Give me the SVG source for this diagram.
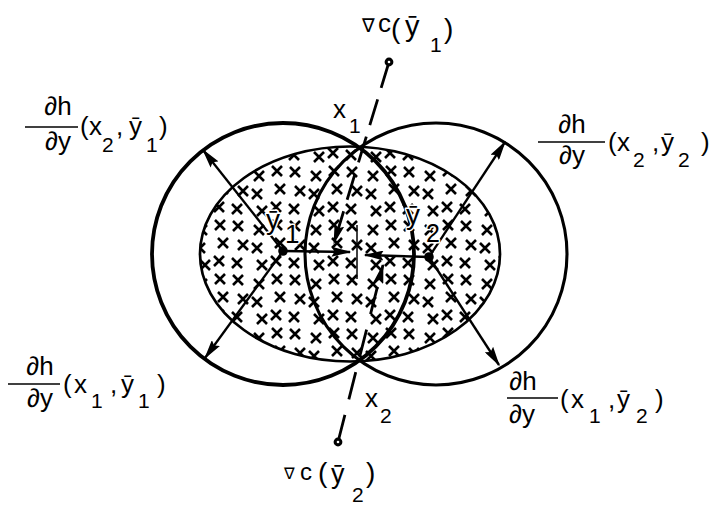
<svg xmlns="http://www.w3.org/2000/svg" width="715" height="506" viewBox="0 0 715 506">
<style>
  text { font-family: "Liberation Sans", "DejaVu Sans", sans-serif; fill: #000; font-size: 26px; }
  .sub { font-size: 21px; }
  .par { font-size: 28px; }
  .nab { font-family: "DejaVu Sans", "Liberation Sans", sans-serif; }
  .halo { paint-order: stroke; stroke: #fff; stroke-width: 3px; stroke-linejoin: round; }
  .bar { stroke: #000; stroke-width: 1.6; }
  .ray { stroke: #000; stroke-width: 2.3; fill: none; marker-end: url(#arrow); }
  .grad { stroke: #000; stroke-width: 2.8; fill: none; marker-end: url(#arrow); }
  .ring { fill: none; stroke: #000; }
</style>
<defs>
  <marker id="arrow" viewBox="0 0 20 10" refX="18.5" refY="5" markerWidth="20" markerHeight="10" markerUnits="userSpaceOnUse" orient="auto">
    <path d="M0,0 L20,5 L0,10 L3,5 z" fill="#000"/>
  </marker>
  <pattern id="xmarks" patternUnits="userSpaceOnUse" x="2" y="3" width="57" height="54">
    <path d="M3,2L13,12M13,2L3,12 M24,6L34,16M34,6L24,16 M42,1L52,11M52,1L42,11 M8,21L18,31M18,21L8,31 M22,24L32,34M32,24L22,34 M45,19L55,29M55,19L45,29 M2,39L12,49M12,39L2,49 M27,41L37,51M37,41L27,51 M41,37L51,47M51,37L41,47" stroke="#000" stroke-width="2.6" stroke-linecap="butt" fill="none"/>
  </pattern>
</defs>
<rect width="715" height="506" fill="#fff"/>

<g id="ellipse-region">
  <ellipse cx="350" cy="254" rx="150" ry="107.5" fill="url(#xmarks)"/>
  <ellipse cx="350" cy="254" rx="150" ry="107.5" class="ring" stroke-width="2.7"/>
</g>
<g id="circle-left">
  <circle cx="283" cy="254" r="131" class="ring" stroke-width="3.8"/>
</g>
<g id="circle-right">
  <circle cx="436" cy="254" r="131" class="ring" stroke-width="3.1"/>
</g>
<g id="separator">
  <line x1="357" y1="225" x2="357" y2="279" stroke="#000" stroke-width="1.5"/>
</g>

<g id="connectors">
  <line class="ray" x1="283" y1="251" x2="203" y2="150"/>
  <line class="ray" x1="283" y1="251" x2="205" y2="358"/>
  <line class="ray" x1="283" y1="251" x2="350" y2="252"/>
  <line class="ray" x1="429" y1="257" x2="505" y2="142"/>
  <line class="ray" x1="429" y1="257" x2="499" y2="365"/>
  <line class="ray" x1="429" y1="257" x2="365" y2="255"/>
  <line class="grad" x1="389" y1="62" x2="334" y2="243" stroke-dasharray="27 12"/>
  <line class="grad" x1="338" y1="442" x2="383" y2="265" stroke-dasharray="28 16"/>
</g>

<g id="point-y1">
  <circle cx="283" cy="251" r="4.8" fill="#000"/>
  <text class="halo" x="266" y="229" style="font-size:28px">ȳ</text>
  <text class="halo sub" x="285" y="243" style="font-size:26px">1</text>
</g>
<g id="point-y2">
  <circle cx="429" cy="257" r="4.8" fill="#000"/>
  <text class="halo" x="406" y="224" style="font-size:28px">ȳ</text>
  <text class="halo sub" x="426" y="242" style="font-size:25px">2</text>
</g>
<g id="point-x1">
  <text x="333" y="118">x</text>
  <text class="sub" x="349" y="133">1</text>
</g>
<g id="point-x2">
  <text x="365" y="407">x</text>
  <text class="sub" x="380" y="423">2</text>
</g>

<g id="grad-c-y1">
  <circle cx="389" cy="62" r="4.4" fill="#000"/>
  <circle cx="389" cy="62" r="1.3" fill="#fff"/>
  <text x="362" y="32"><tspan class="nab" style="font-size:19px">∇</tspan><tspan x="378">c</tspan><tspan class="par" x="391" y="38">(</tspan><tspan x="405" y="36" style="font-size:29px">ȳ</tspan><tspan class="sub" x="430" y="52">1</tspan><tspan class="par" x="444" y="38">)</tspan></text>
</g>
<g id="grad-c-y2">
  <circle cx="338" cy="442" r="4.4" fill="#000"/>
  <circle cx="338" cy="442" r="1.3" fill="#fff"/>
  <text x="284" y="479"><tspan class="nab" style="font-size:16px">∇</tspan><tspan x="300" y="480" style="font-size:24px">c</tspan><tspan class="par" x="318" y="482">(</tspan><tspan x="331" y="483" style="font-size:27px">ȳ</tspan><tspan class="sub" x="352" y="502">2</tspan><tspan class="par" x="366" y="482">)</tspan></text>
</g>

<g id="label-dh-x2-y1">
  <text x="58" y="115" text-anchor="middle">∂h</text>
  <line class="bar" x1="25" y1="127" x2="78" y2="127"/>
  <text x="58" y="150" text-anchor="middle">∂y</text>
  <text y="135"><tspan x="80">(</tspan><tspan x="89">x</tspan><tspan class="sub" x="102" y="152">2</tspan><tspan x="116" y="135">,</tspan><tspan x="129">ȳ</tspan><tspan class="sub" x="146" y="152">1</tspan><tspan x="159" y="135">)</tspan></text>
</g>
<g id="label-dh-x2-y2">
  <text x="572" y="133" text-anchor="middle">∂h</text>
  <line class="bar" x1="538" y1="142" x2="605" y2="142"/>
  <text x="572" y="164" text-anchor="middle">∂y</text>
  <text y="151"><tspan x="608">(</tspan><tspan x="617">x</tspan><tspan class="sub" x="633" y="167">2</tspan><tspan x="652" y="151">,</tspan><tspan x="661">ȳ</tspan><tspan class="sub" x="678" y="167">2</tspan><tspan x="701" y="151">)</tspan></text>
</g>
<g id="label-dh-x1-y1">
  <text x="40" y="375" text-anchor="middle">∂h</text>
  <line class="bar" x1="8" y1="384" x2="60" y2="384"/>
  <text x="40" y="407" text-anchor="middle">∂y</text>
  <text y="393"><tspan x="63">(</tspan><tspan x="74">x</tspan><tspan class="sub" x="91" y="408">1</tspan><tspan x="110" y="393">,</tspan><tspan x="121">ȳ</tspan><tspan class="sub" x="138" y="408">1</tspan><tspan x="157" y="393">)</tspan></text>
</g>
<g id="label-dh-x1-y2">
  <text x="523" y="390" text-anchor="middle">∂h</text>
  <line class="bar" x1="507" y1="398" x2="558" y2="398"/>
  <text x="522" y="423" text-anchor="middle">∂y</text>
  <text y="408"><tspan x="560">(</tspan><tspan x="571">x</tspan><tspan class="sub" x="589" y="423">1</tspan><tspan x="608" y="408">,</tspan><tspan x="617">ȳ</tspan><tspan class="sub" x="636" y="423">2</tspan><tspan x="655" y="408">)</tspan></text>
</g>
</svg>
